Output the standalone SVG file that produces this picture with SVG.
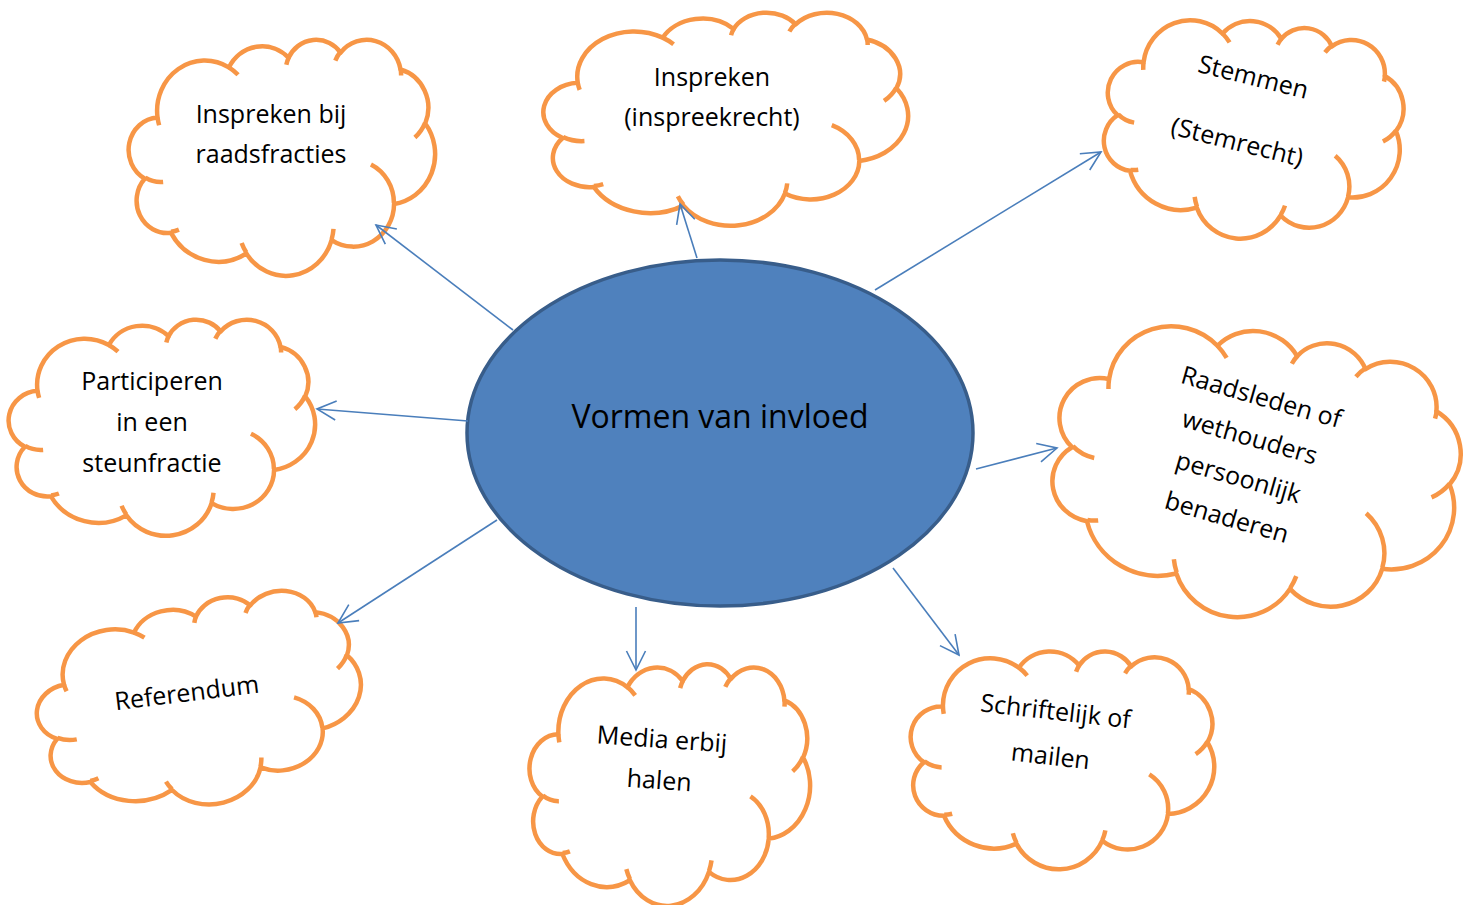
<svg xmlns="http://www.w3.org/2000/svg" xmlns:xlink="http://www.w3.org/1999/xlink" width="1474" height="905" viewBox="0 0 1474 905">
<style>
.cl{fill:#ffffff;stroke:#F79646;stroke-width:4.5;vector-effect:non-scaling-stroke;stroke-linejoin:round}
.ci{fill:none;stroke:#F79646;stroke-width:4.5;vector-effect:non-scaling-stroke}
.t{font-family:"Open Sans","Liberation Sans",sans-serif;font-size:25px;fill:#000000;text-anchor:middle}
.tc{font-family:"Open Sans","Liberation Sans",sans-serif;font-size:32px;fill:#000000;text-anchor:middle}
.conn line{stroke:#4A7EBB;stroke-width:1.6;fill:none;marker-end:url(#ah)}
</style>
<defs>
<marker id="ah" markerUnits="userSpaceOnUse" viewBox="-21 -11 23 22" refX="0" refY="0" markerWidth="23" markerHeight="22" orient="auto">
<path d="M-19,-9.5 L0,0 L-19,9.5" fill="none" stroke="#4A7EBB" stroke-width="1.6"/>
</marker>
<g id="cloud">
<path class="cl" d="M39,143.7 A67.53,91.9 0 0 1 140.05,52.03 A53.33,72.67 0 0 1 224.56,34.33 A43.65,59.45 0 0 1 298.34,24.83 A48.57,65.95 0 0 1 383.18,55.79 A53.33,72.73 0 0 1 418.19,154.63 A67.75,92.2 0 0 1 374.03,302.04 A57.85,78.67 0 0 1 285.54,368.14 A67.52,92.15 0 0 1 164.79,392.67 A77.2,105.43 0 0 1 58.02,354.76 A43.6,59.18 0 0 1 21.09,255.57 A43.45,59.45 0 0 1 39,143.7 Z"/>
<path class="ci" d="M46.93,261.77 A43.45,59.45 0 0 1 21.6,253.79 M69.28,348.99 A43.6,59.18 0 0 1 58.19,352.81 M164.78,390.9 A67.52,92.15 0 0 1 158.1,373.46 M288.27,347.51 A67.52,92.15 0 0 1 285.6,366.61 M341.29,229.54 A57.85,78.67 0 0 1 373.81,300.72 M417.98,153.54 A53.33,72.73 0 0 1 403.49,180.31 M383.24,54.26 A48.57,65.95 0 0 1 384.01,66.89 M290.78,39.52 A48.57,65.95 0 0 1 298.21,23.39 M221.41,47.2 A43.65,59.45 0 0 1 225,33.3 M140,51.92 A67.53,91.9 0 0 1 153.02,65.43 M41.27,157.89 A67.53,91.9 0 0 1 39.01,143.71"/>
</g>
</defs>
<rect width="1474" height="905" fill="#ffffff"/>

<g id="node-center">
<ellipse cx="720" cy="433" rx="253" ry="173" fill="#4F81BD" stroke="#385D8A" stroke-width="3.5"/>
<text class="tc" x="720" y="428">Vormen van invloed</text>
</g>

<g id="node-inspreken-raadsfracties">
<use href="#cloud" transform="translate(130,39) scale(0.706,0.5463)"/>
<text class="t" x="271" y="123">Inspreken bij</text>
<text class="t" x="271" y="163">raadsfracties</text>
</g>

<g id="node-inspreken">
<use href="#cloud" transform="translate(545,12) scale(0.8403,0.4931)"/>
<text class="t" x="712" y="86">Inspreken</text>
<text class="t" x="712" y="126">(inspreekrecht)</text>
</g>

<g id="node-stemmen" transform="translate(1253,128) rotate(14)">
<use href="#cloud" transform="translate(-149,-111) scale(0.6898,0.5139)"/>
<text class="t" x="-12" y="-41">Stemmen</text>
<text class="t" x="-12" y="26">(Stemrecht)</text>
</g>

<g id="node-raadsleden" transform="translate(1255.5,472) rotate(16)">
<use href="#cloud" transform="translate(-203,-146) scale(0.9398,0.6759)"/>
<text class="t" x="-15" y="-65">Raadsleden of</text>
<text class="t" x="-15" y="-23.3">wethouders</text>
<text class="t" x="-15" y="18.4">persoonlijk</text>
<text class="t" x="-15" y="60.1">benaderen</text>
</g>

<g id="node-participeren">
<use href="#cloud" transform="translate(10,319) scale(0.706,0.5)"/>
<text class="t" x="152" y="390">Participeren</text>
<text class="t" x="152" y="431">in een</text>
<text class="t" x="152" y="472">steunfractie</text>
</g>

<g id="node-referendum" transform="translate(200,702.5) rotate(-7)">
<use href="#cloud" transform="translate(-162,-102) scale(0.75,0.4722)"/>
<text class="t" x="-12" y="-2.6">Referendum</text>
</g>

<g id="node-media" transform="translate(670,783) rotate(4)">
<use href="#cloud" transform="translate(-140,-122) scale(0.6481,0.5648)"/>
<text class="t" x="-11" y="-34.4">Media erbij</text>
<text class="t" x="-11" y="6.8">halen</text>
</g>

<g id="node-schriftelijk" transform="translate(1062.5,757.5) rotate(6.5)">
<use href="#cloud" transform="translate(-152,-111) scale(0.7037,0.5139)"/>
<text class="t" x="-12" y="-36.5">Schriftelijk of</text>
<text class="t" x="-12" y="8.7">mailen</text>
</g>

<g id="connectors" class="conn">
<line x1="513" y1="330" x2="376" y2="225"/>
<line x1="468" y1="421" x2="317" y2="409"/>
<line x1="697" y1="258" x2="680" y2="204"/>
<line x1="875" y1="290" x2="1101" y2="152"/>
<line x1="976" y1="469" x2="1057" y2="448"/>
<line x1="893" y1="568" x2="959" y2="655"/>
<line x1="636" y1="607" x2="636" y2="670"/>
<line x1="497" y1="520" x2="338" y2="623"/>
</g>
</svg>
